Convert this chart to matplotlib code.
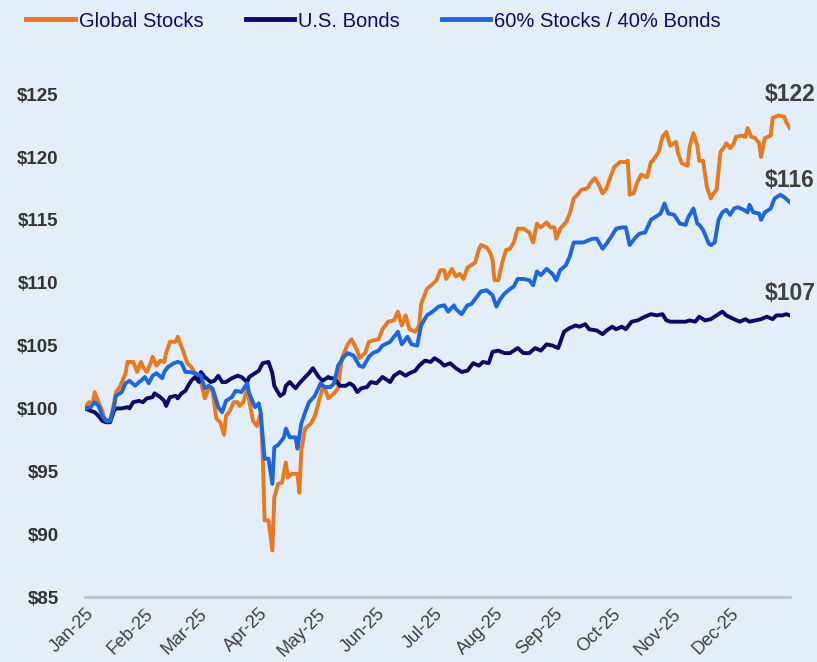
import pandas as pd
import matplotlib
matplotlib.use('Agg')
import matplotlib.pyplot as plt
import matplotlib.dates as mdates
from matplotlib.ticker import FuncFormatter

plt.rcParams['font.family'] = ['Liberation Sans', 'DejaVu Sans']

# growth of $100 invested on 1 Jan 2025
# x values are days since 1 Jan 2025
stocks_days = [0, 2, 4, 5, 7, 9, 10, 13, 15, 16, 18, 21, 22, 25, 27, 29, 30, 32, 34, 35,
               37, 39, 41, 42, 44, 47, 48, 50, 53, 55, 57, 59, 60, 62, 64, 66, 68, 70, 72, 73,
               75, 77, 79, 80, 82, 84, 85, 87, 89, 91, 92, 93, 95, 97, 98, 100, 102, 104, 105, 107,
               110, 111, 112, 114, 117, 119, 121, 123, 124, 126, 129, 131, 133, 136, 138, 141, 142, 145, 147, 149,
               152, 154, 157, 160, 162, 164, 166, 168, 171, 173, 174, 177, 180, 182, 184, 186, 187, 190, 192, 194,
               196, 198, 200, 202, 204, 205, 208, 210, 211, 212, 214, 216, 218, 220, 222, 224, 227, 230, 232, 234,
               236, 239, 241, 243, 244, 246, 249, 251, 253, 255, 257, 260, 262, 264, 266, 268, 270, 272, 274, 277,
               280, 281, 282, 284, 286, 288, 291, 293, 294, 297, 299, 301, 303, 306, 307, 309, 312, 313, 315, 317,
               318, 320, 322, 324, 325, 327, 329, 331, 332, 334, 336, 337, 340, 342, 343, 345, 347, 349, 350, 352,
               355, 356, 359, 362, 363, 365]
stocks_vals = [100.0, 100.5, 100.4, 101.3, 100.5, 99.8, 99.2, 99.0, 100.4, 101.3, 101.7, 102.8, 103.7, 103.7, 102.9, 103.7, 103.3, 102.9, 103.6, 104.1,
               103.4, 103.8, 103.7, 104.4, 105.3, 105.3, 105.7, 104.9, 103.6, 103.3, 102.8, 102.5, 102.1, 100.8, 101.6, 101.4, 99.2, 98.9, 97.9, 99.4,
               99.8, 100.5, 100.5, 100.2, 100.5, 101.6, 100.6, 99.0, 98.6, 99.6, 96.3, 91.1, 91.1, 88.7, 92.9, 94.0, 94.1, 95.7, 94.5, 94.8,
               94.8, 93.3, 96.7, 98.4, 98.8, 99.4, 100.5, 101.6, 101.7, 100.8, 101.2, 101.6, 104.0, 105.1, 105.5, 104.6, 104.0, 104.4, 105.3, 105.4,
               105.5, 106.3, 106.9, 107.0, 107.7, 106.6, 107.4, 106.3, 106.1, 106.6, 108.3, 109.5, 109.9, 110.2, 111.0, 111.0, 110.3, 111.1, 110.5, 110.7,
               110.3, 111.2, 111.4, 111.6, 112.7, 113.0, 112.8, 112.3, 111.8, 110.2, 110.2, 111.6, 112.6, 112.7, 113.2, 114.3, 114.3, 114.0, 113.2, 114.7,
               114.4, 114.8, 114.4, 114.4, 113.5, 114.3, 114.8, 115.5, 116.7, 117.0, 117.4, 117.5, 118.0, 118.3, 117.8, 117.1, 117.5, 118.4, 119.2, 119.6,
               119.6, 119.7, 117.0, 117.1, 118.0, 118.6, 118.4, 119.6, 119.7, 120.4, 121.6, 122.0, 120.9, 121.2, 120.3, 119.5, 119.3, 120.8, 121.9, 120.9,
               119.7, 119.7, 117.6, 116.7, 117.0, 117.4, 120.4, 120.8, 121.1, 120.7, 121.1, 121.6, 121.7, 121.6, 122.3, 121.6, 121.5, 121.1, 120.0, 121.5,
               121.7, 123.1, 123.3, 123.2, 122.8, 122.3]

bonds_days = [0, 3, 5, 7, 9, 11, 13, 15, 16, 19, 22, 23, 25, 28, 30, 32, 35, 36, 39, 41,
              42, 44, 47, 48, 50, 52, 53, 55, 57, 59, 60, 62, 65, 67, 69, 71, 73, 76, 79, 81,
              84, 85, 88, 90, 92, 95, 97, 98, 101, 103, 104, 106, 109, 111, 114, 116, 118, 121, 123, 126,
              127, 129, 132, 135, 137, 139, 141, 143, 146, 148, 151, 154, 155, 158, 160, 163, 166, 168, 171, 173,
              176, 179, 181, 184, 186, 189, 192, 195, 198, 201, 204, 206, 209, 211, 214, 217, 220, 224, 227, 230,
              233, 236, 239, 242, 245, 248, 251, 254, 256, 259, 261, 265, 268, 270, 273, 275, 278, 280, 283, 286,
              290, 293, 296, 299, 301, 303, 306, 309, 311, 313, 316, 318, 321, 324, 327, 330, 332, 336, 339, 342,
              344, 347, 350, 353, 356, 358, 361, 363, 365]
bonds_vals = [100.0, 99.8, 99.7, 99.4, 99.0, 98.9, 98.9, 99.8, 100.0, 100.0, 100.1, 100.0, 100.5, 100.6, 100.5, 100.8, 100.9, 101.2, 100.9, 100.6,
              100.2, 100.9, 101.0, 100.8, 101.2, 101.4, 101.7, 102.2, 102.5, 102.1, 102.9, 102.5, 102.1, 102.2, 102.6, 102.1, 102.1, 102.4, 102.6, 102.5,
              102.1, 102.5, 102.8, 103.0, 103.6, 103.7, 102.8, 101.8, 101.0, 101.2, 101.8, 102.1, 101.6, 102.0, 102.5, 102.8, 103.2, 102.5, 102.2, 102.5,
              102.4, 102.4, 101.8, 101.8, 102.0, 101.8, 101.3, 101.6, 101.7, 102.1, 102.0, 102.5, 102.4, 102.1, 102.6, 102.9, 102.6, 102.8, 103.0, 103.4,
              103.8, 103.7, 104.0, 103.7, 103.4, 103.6, 103.2, 102.9, 103.0, 103.6, 103.4, 103.7, 103.6, 104.5, 104.6, 104.4, 104.4, 104.8, 104.4, 104.4,
              104.8, 104.6, 105.1, 105.0, 104.8, 106.1, 106.4, 106.6, 106.5, 106.7, 106.3, 106.2, 105.9, 106.2, 106.5, 106.3, 106.5, 106.3, 106.9, 107.0,
              107.3, 107.5, 107.4, 107.5, 107.0, 106.9, 106.9, 106.9, 106.9, 107.0, 106.9, 107.3, 107.0, 107.1, 107.4, 107.7, 107.4, 107.1, 106.9, 107.1,
              106.9, 107.0, 107.1, 107.3, 107.1, 107.4, 107.4, 107.5, 107.4]

mix_days = [0, 3, 5, 7, 9, 11, 13, 15, 16, 19, 21, 23, 26, 28, 29, 31, 33, 35, 37, 40,
            41, 43, 46, 48, 50, 52, 54, 57, 60, 62, 64, 66, 69, 71, 73, 76, 78, 81, 84, 85,
            88, 90, 91, 93, 95, 97, 98, 100, 103, 104, 106, 109, 110, 112, 114, 116, 119, 122, 124, 127,
            129, 131, 134, 136, 139, 142, 144, 147, 149, 152, 154, 158, 162, 164, 167, 169, 172, 174, 177, 180,
            183, 186, 188, 191, 192, 195, 198, 200, 203, 205, 208, 211, 213, 215, 217, 220, 222, 224, 227, 230,
            232, 234, 236, 239, 242, 244, 246, 249, 251, 253, 255, 258, 261, 263, 265, 268, 270, 273, 275, 278,
            280, 282, 285, 287, 290, 293, 295, 298, 300, 302, 305, 308, 311, 312, 315, 317, 318, 320, 323, 324,
            326, 328, 330, 332, 334, 336, 338, 341, 343, 344, 346, 349, 350, 352, 355, 357, 360, 362, 365]
mix_vals = [100.0, 100.1, 100.5, 100.2, 99.4, 99.0, 99.0, 100.1, 101.0, 101.3, 102.0, 102.2, 101.8, 102.1, 102.2, 102.5, 102.0, 102.6, 102.8, 102.4,
            102.9, 103.3, 103.6, 103.7, 103.6, 102.9, 102.9, 102.8, 102.6, 101.6, 101.8, 101.6, 100.1, 99.7, 100.6, 100.9, 101.4, 101.3, 102.0, 101.2,
            100.1, 100.4, 99.6, 96.0, 96.0, 94.0, 96.9, 97.1, 97.7, 98.4, 97.7, 97.7, 96.8, 98.8, 99.7, 100.5, 101.0, 102.0, 101.7, 101.7,
            102.0, 103.4, 104.1, 104.4, 104.2, 103.4, 103.3, 104.1, 104.4, 104.6, 105.0, 105.3, 106.1, 105.1, 105.7, 105.1, 105.0, 106.6, 107.4, 107.7,
            108.1, 108.2, 107.7, 108.2, 107.9, 107.5, 108.2, 108.3, 108.9, 109.3, 109.4, 109.0, 108.1, 108.7, 109.1, 109.5, 109.7, 110.3, 110.3, 110.2,
            109.8, 110.9, 110.6, 111.1, 110.7, 110.2, 111.0, 111.4, 112.1, 113.2, 113.2, 113.2, 113.4, 113.5, 113.5, 112.7, 113.1, 113.8, 114.3, 114.4,
            114.4, 113.0, 113.6, 113.9, 114.0, 115.0, 115.2, 115.5, 116.3, 115.5, 115.4, 114.7, 114.6, 115.1, 115.9, 114.7, 114.6, 114.2, 113.1, 113.0,
            113.2, 115.0, 115.6, 115.8, 115.4, 115.9, 116.0, 115.8, 115.6, 116.2, 115.6, 115.5, 115.0, 115.6, 115.9, 116.7, 117.0, 116.8, 116.4]

series_names = ['Global Stocks', 'U.S. Bonds', '60% Stocks / 40% Bonds']
series_colors = ['#E8791F', '#0B0B66', '#1E66DC']
end_labels = ['$122', '$107', '$116']
y_ticks = [85, 90, 95, 100, 105, 110, 115, 120, 125]
month_ticks = pd.date_range('2025-01-01', '2025-12-01', freq='MS')

start = pd.Timestamp('2025-01-01')
to_dates = lambda d: start + pd.to_timedelta(d, unit='D')

bg = '#E4EEF9'
fig = plt.figure(figsize=(8.17, 6.62), dpi=100, facecolor=bg)
ax = fig.add_axes([85 / 817, 1 - 597 / 662, 705 / 817, (597 - 69) / 662])
ax.set_facecolor(bg)

all_days = [stocks_days, bonds_days, mix_days]
all_vals = [stocks_vals, bonds_vals, mix_vals]
offsets = [24, 16, 16]
for days, vals, name, col, lab, off in zip(all_days, all_vals, series_names, series_colors, end_labels, offsets):
    x = to_dates(days)
    ax.plot(x, vals, color=col, lw=2.8, label=name, solid_joinstyle='round')
    ax.annotate(lab, (x[-1], vals[-1]), xytext=(0, off), textcoords='offset points',
                ha='center', va='center', fontsize=16.5, fontweight='bold', color='#404040',
                annotation_clip=False)

ax.set_xlim(start, pd.Timestamp('2026-01-01'))
ax.set_ylim(85, 127)
ax.set_yticks(y_ticks)
ax.yaxis.set_major_formatter(FuncFormatter(lambda v, p: f'${v:.0f}'))
ax.set_xticks(month_ticks)
ax.xaxis.set_major_formatter(mdates.DateFormatter('%b-%y'))

for s in ['top', 'right', 'left']:
    ax.spines[s].set_visible(False)
ax.spines['bottom'].set_color('#BFBFBF')
ax.spines['bottom'].set_linewidth(2)
ax.tick_params(axis='y', length=0, pad=19, labelsize=13.5, labelcolor='#333333')
ax.tick_params(axis='x', length=0, pad=6, labelsize=13, labelcolor='#404040')
for t in ax.get_yticklabels():
    t.set_fontweight('bold')
for t in ax.get_xticklabels():
    t.set_rotation(45)
    t.set_ha('right')
    t.set_rotation_mode('anchor')

fig.legend(loc='upper left', bbox_to_anchor=(0.01, 1.01), ncol=3, frameon=False,
           fontsize=14.5, handlelength=2.4, handletextpad=0.2, columnspacing=2.1,
           labelcolor='#0B0B66')
for h in fig.legends[0].get_lines():
    h.set_linewidth(3.5)

fig.savefig('out.png', dpi=100, facecolor=bg)
